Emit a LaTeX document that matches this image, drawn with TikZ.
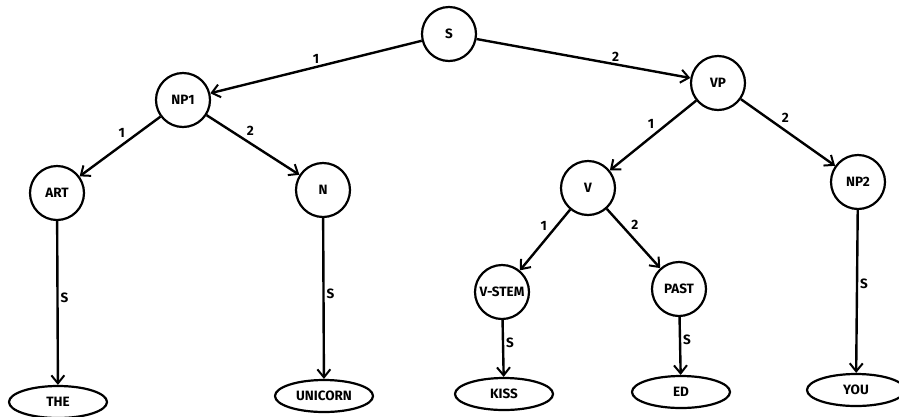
\documentclass[tikz,border=0pt]{standalone}
\usepackage{fontspec}
\setsansfont{Fira Sans}
\usepackage{tikz}
\usetikzlibrary{arrows.meta, positioning, shapes.geometric}
\tikzset{
  cat/.style={circle, draw=black, line width=2.2pt, minimum size=54pt,
              inner sep=0pt, font=\sffamily\bfseries\fontsize{13.5}{13.5}\selectfont},
  word/.style={ellipse, draw=black, line width=2.2pt, minimum width=98pt,
               minimum height=32pt, inner sep=0pt,
               font=\sffamily\bfseries\fontsize{13.5}{13.5}\selectfont},
  arrow/.style={-{Straight Barb[length=8pt, width=13pt, line width=2pt]},
                draw=black, line width=2.4pt},
  label/.style={font=\sffamily\bfseries\fontsize{13.5}{13.5}\selectfont, inner sep=2pt},
}
\begin{document}
\begin{tikzpicture}[x=1pt, y=-1pt]
  \useasboundingbox (0,0) rectangle (899,416);

  % Categories
  \node[cat] (s)     at (449,34)  {S};
  \node[cat] (np1)   at (183,100) {NP1};
  \node[cat] (vp)    at (718,83)  {VP};
  \node[cat] (art)   at (57,193)  {ART};
  \node[cat] (n)     at (323,190) {N};
  \node[cat] (v)     at (588,188) {V};
  \node[cat] (np2)   at (858,182) {NP2};
  \node[cat] (vstem) at (502,292) {V-STEM};
  \node[cat] (past)  at (679,289) {PAST};

  % Words
  \node[word] (the)     at (58,402)  {THE};
  \node[word] (unicorn) at (324,396) {UNICORN};
  \node[word] (kiss)    at (504,394) {KISS};
  \node[word] (ed)      at (681,392) {ED};
  \node[word] (you)     at (856,390) {YOU};

  % Edges
  \draw[arrow] (s) -- node[label, pos=.5, above] {1} (np1);
  \draw[arrow] (s) -- node[label, pos=.65, above] {2} (vp);

  \draw[arrow] (np1) -- node[label, pos=.4, above left] {1} (art);
  \draw[arrow] (np1) -- node[label, pos=.4, above right] {2} (n);
  \draw[arrow] (vp) -- node[label, pos=.45, above left] {1} (v);
  \draw[arrow] (vp) -- node[label, pos=.4, above right] {2} (np2);
  \draw[arrow] (v) -- node[label, pos=.4, above left] {1} (vstem);
  \draw[arrow] (v) -- node[label, pos=.4, above right] {2} (past);

  \draw[arrow] (art) -- node[label, pos=.47, right] {S} (the);
  \draw[arrow] (n) -- node[label, pos=.47, right] {S} (unicorn);
  \draw[arrow] (vstem) -- node[label, pos=.4, right] {S} (kiss);
  \draw[arrow] (past) -- node[label, pos=.4, right] {S} (ed);
  \draw[arrow] (np2) -- node[label, pos=.45, right] {S} (you);

\end{tikzpicture}
\end{document}
